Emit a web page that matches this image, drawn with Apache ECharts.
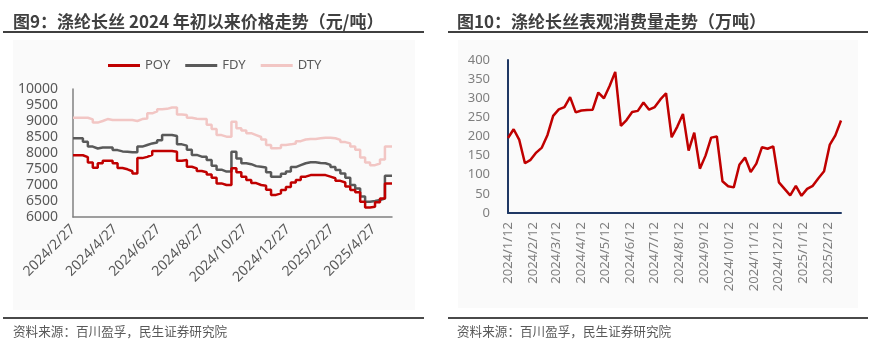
<!DOCTYPE html>
<html>
<head>
<meta charset="utf-8">
<script src="https://cdn.jsdelivr.net/npm/echarts@6/dist/echarts.min.js"></script>
<style>
  html, body { margin: 0; padding: 0; background: #ffffff; }
  #chart { width: 881px; height: 345px; }
</style>
</head>
<body>
<div id="chart"></div>
<script>
// ---- Filament price series (yuan/ton), weekly change points from 2024/2/27 ----
const priceStart = '2024/2/27';
const priceEnd = '2025/5/23';
const poy = [7930, 7930, 7870, 7700, 7540, 7680, 7760, 7760, 7680, 7530, 7490, 7430, 7360, 7840, 7880, 7940,
  8060, 8060, 8060, 8060, 8040, 7760, 7780, 7570, 7520, 7440, 7400, 7330, 7230, 7050, 7000, 7000,
  7520, 7400, 7260, 7160, 7060, 7000, 6980, 6850, 6690, 6740, 6840, 6940, 7080, 7160, 7260, 7310,
  7310, 7310, 7310, 7260, 7210, 7130, 7080, 6950, 6840, 6770, 6480, 6300, 6320, 6460, 6580, 7050, 7050];
const fdy = [8460, 8460, 8350, 8200, 8140, 8170, 8170, 8170, 8090, 8050, 8040, 8020, 8020, 8200, 8250, 8300,
  8330, 8400, 8560, 8560, 8530, 8270, 8230, 8100, 7940, 7885, 7885, 7780, 7600, 7480, 7420, 7420,
  8040, 7830, 7680, 7650, 7590, 7570, 7550, 7400, 7260, 7260, 7350, 7420, 7560, 7620, 7680, 7710,
  7710, 7690, 7680, 7630, 7560, 7470, 7360, 7230, 7000, 6890, 6640, 6480, 6500, 6530, 6580, 7290, 7290];
const dty = [9100, 9100, 9100, 9050, 8950, 9000, 9060, 9030, 9030, 9030, 9030, 9030, 9000, 9060, 9080, 9240,
  9300, 9370, 9380, 9420, 9420, 9200, 9190, 9100, 9070, 9060, 9060, 8880, 8750, 8560, 8510, 8510,
  8980, 8770, 8700, 8620, 8560, 8500, 8420, 8250, 8150, 8160, 8250, 8270, 8300, 8370, 8420, 8440,
  8440, 8460, 8480, 8480, 8460, 8410, 8340, 8300, 8200, 8100, 7860, 7700, 7620, 7670, 7800, 8200, 8200];
const priceTickLabels = ['2024/2/27', '2024/4/27', '2024/6/27', '2024/8/27', '2024/10/27',
  '2024/12/27', '2025/2/27', '2025/4/27'];

// ---- Apparent consumption of filament (10k tons), weekly from 2024/1/12 ----
const consStart = '2024/1/12';
const consEnd = '2025/2/28';
const consumption = [196, 219, 191, 130, 139, 158, 171, 204, 254, 271, 277, 303, 263, 268, 269, 270,
  315, 300, 332, 369, 228, 243, 264, 267, 289, 270, 277, 297, 313, 198, 226, 259, 163, 210, 116, 150,
  197, 200, 83, 70, 67, 126, 145, 107, 129, 172, 168, 174, 80, 63, 46, 71, 45, 63, 71, 91, 109, 178, 203, 242];
const consTickLabels = ['2024/1/12', '2024/2/12', '2024/3/12', '2024/4/12', '2024/5/12', '2024/6/12',
  '2024/7/12', '2024/8/12', '2024/9/12', '2024/10/12', '2024/11/12', '2024/12/12', '2025/1/12', '2025/2/12'];

// helpers: dates are placed on a numeric (millisecond) axis
function toTime(s) {
  const p = s.split('/').map(Number);
  return new Date(p[0], p[1] - 1, p[2]).getTime();
}
function weeklyDates(start, n) {
  const t0 = toTime(start);
  const out = [];
  for (let i = 0; i < n; i++) {
    const d = new Date(t0);
    d.setDate(d.getDate() + 7 * i);
    out.push(d.getTime());
  }
  return out;
}
function fmtDate(v) {
  const d = new Date(Math.round(v));
  return d.getFullYear() + '/' + (d.getMonth() + 1) + '/' + d.getDate();
}
function pairs(dates, vals, endTime) {
  const arr = dates.map((t, i) => [t, vals[i]]);
  if (endTime != null) arr.push([endTime, vals[vals.length - 1]]);
  return arr;
}

const priceDates = weeklyDates(priceStart, poy.length);
const consDates = weeklyDates(consStart, consumption.length);

const CJK = '"Noto Sans CJK SC", "Noto Sans", sans-serif';
const LAT = '"Noto Sans", "Liberation Sans", sans-serif';

const chart = echarts.init(document.getElementById('chart'), null, { renderer: 'canvas' });

chart.setOption({
  animation: false,
  backgroundColor: '#ffffff',
  graphic: [
    { type: 'rect', silent: true, z: -10, shape: { x: 13, y: 40, width: 402, height: 270 }, style: { fill: '#fafafa' } },
    { type: 'rect', silent: true, z: -10, shape: { x: 458, y: 40, width: 400, height: 268 }, style: { fill: '#fafafa' } },
    { type: 'line', silent: true, shape: { x1: 3, y1: 32, x2: 424, y2: 32 }, style: { stroke: '#404040', lineWidth: 2 } },
    { type: 'line', silent: true, shape: { x1: 448, y1: 32, x2: 868, y2: 32 }, style: { stroke: '#404040', lineWidth: 2 } },
    { type: 'line', silent: true, shape: { x1: 3, y1: 318, x2: 424, y2: 318 }, style: { stroke: '#4a4a4a', lineWidth: 2 } },
    { type: 'line', silent: true, shape: { x1: 448, y1: 318, x2: 868, y2: 318 }, style: { stroke: '#4a4a4a', lineWidth: 2 } }
  ],
  title: [
    { text: '图9：涤纶长丝 2024 年初以来价格走势（元/吨）', left: 13, top: 13, padding: 0,
      textStyle: { fontFamily: CJK, fontSize: 17, fontWeight: 'bold', color: '#404040' } },
    { text: '图10：涤纶长丝表观消费量走势（万吨）', left: 457, top: 13, padding: 0,
      textStyle: { fontFamily: CJK, fontSize: 17, fontWeight: 'bold', color: '#404040' } },
    { text: '资料来源：百川盈孚，民生证券研究院', left: 13, top: 325, padding: 0,
      textStyle: { fontFamily: CJK, fontSize: 12.6, fontWeight: 'normal', color: '#595959' } },
    { text: '资料来源：百川盈孚，民生证券研究院', left: 457, top: 325, padding: 0,
      textStyle: { fontFamily: CJK, fontSize: 12.6, fontWeight: 'normal', color: '#595959' } }
  ],
  legend: {
    left: 108, top: 59, padding: 0,
    icon: 'rect', itemWidth: 32, itemHeight: 3, itemGap: 15,
    textStyle: { fontFamily: LAT, fontSize: 13, color: '#595959' },
    data: ['POY', 'FDY', 'DTY']
  },
  grid: [
    { left: 73, right: 489, top: 89, bottom: 128 },
    { left: 508, right: 40, top: 60, bottom: 132 }
  ],
  xAxis: [
    {
      type: 'value', gridIndex: 0, scale: true,
      min: toTime(priceStart), max: toTime(priceEnd),
      axisLine: { lineStyle: { color: '#808080', width: 1.5 } },
      axisTick: { show: false },
      splitLine: { show: false },
      axisLabel: {
        customValues: priceTickLabels.map(toTime),
        formatter: fmtDate, rotate: 45, margin: 10,
        fontFamily: LAT, fontSize: 14, color: '#595959'
      }
    },
    {
      type: 'value', gridIndex: 1, scale: true,
      min: toTime(consStart), max: toTime(consEnd),
      axisLine: { lineStyle: { color: '#1f3864', width: 2 } },
      axisTick: { show: false },
      splitLine: { show: false },
      axisLabel: {
        customValues: consTickLabels.map(toTime),
        formatter: fmtDate, rotate: 90, margin: 9,
        fontFamily: LAT, fontSize: 13, color: '#7f7f7f'
      }
    }
  ],
  yAxis: [
    {
      type: 'value', gridIndex: 0, min: 6000, max: 10000, interval: 500,
      axisLine: { show: true, lineStyle: { color: '#808080', width: 1.5 } },
      axisTick: { show: false },
      splitLine: { show: false },
      axisLabel: { margin: 15, fontFamily: LAT, fontSize: 14, color: '#595959', formatter: v => String(v) }
    },
    {
      type: 'value', gridIndex: 1, min: 0, max: 400, interval: 50,
      axisLine: { show: true, lineStyle: { color: '#1f3864', width: 2 } },
      axisTick: { show: false },
      splitLine: { show: false },
      axisLabel: { margin: 18, fontFamily: LAT, fontSize: 13, color: '#7f7f7f' }
    }
  ],
  series: [
    { name: 'POY', type: 'line', xAxisIndex: 0, yAxisIndex: 0, step: 'end', showSymbol: false,
      color: '#c00000', lineStyle: { width: 2.5, color: '#c00000' }, z: 4,
      data: pairs(priceDates, poy, toTime(priceEnd)) },
    { name: 'FDY', type: 'line', xAxisIndex: 0, yAxisIndex: 0, step: 'end', showSymbol: false,
      color: '#595959', lineStyle: { width: 2.5, color: '#595959' }, z: 3,
      data: pairs(priceDates, fdy, toTime(priceEnd)) },
    { name: 'DTY', type: 'line', xAxisIndex: 0, yAxisIndex: 0, step: 'end', showSymbol: false,
      color: '#f2c6c4', lineStyle: { width: 2.5, color: '#f2c6c4' }, z: 2,
      data: pairs(priceDates, dty, toTime(priceEnd)) },
    { name: '表观消费量', type: 'line', xAxisIndex: 1, yAxisIndex: 1, showSymbol: false,
      color: '#c00000', lineStyle: { width: 2.5, color: '#c00000' },
      data: pairs(consDates, consumption, null) }
  ]
});
</script>
</body>
</html>
